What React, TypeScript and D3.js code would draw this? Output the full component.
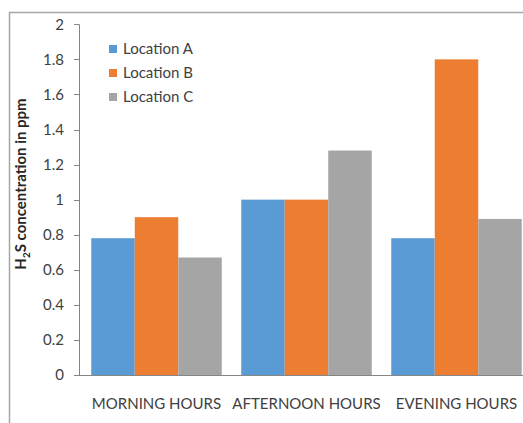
import React from "react";
import * as d3 from "d3";

const categories = ["MORNING HOURS", "AFTERNOON HOURS", "EVENING HOURS"];
const seriesNames = ["Location A", "Location B", "Location C"];
const locationA = [0.78, 1.0, 0.78];
const locationB = [0.9, 1.0, 1.8];
const locationC = [0.67, 1.28, 0.89];
const yTicks = [0, 0.2, 0.4, 0.6, 0.8, 1, 1.2, 1.4, 1.6, 1.8, 2];
const colors = ["#5B9BD5", "#ED7D31", "#A5A5A5"];

const W = 523;
const H = 423;
const FONT = "Lato, 'Open Sans', sans-serif";

export default function App() {
  const series = [locationA, locationB, locationC];
  const y = d3.scaleLinear().domain([0, 2]).range([375, 24.3]);
  const x = d3.scaleBand().domain(categories).range([81.5, 531.5]).paddingInner(0.13).paddingOuter(0.065);
  const xs = d3.scaleBand().domain(seriesNames).range([0, x.bandwidth()]);
  const axisX = 79;

  return (
    <svg width={W} height={H} style={{ position: "absolute", left: 0, top: 0, background: "#fff" }}>
      <rect x={0} y={0} width={W} height={H} fill="#fff" />
      {/* chart frame */}
      <path d={`M9.5,${H} V12.5 H${W}`} fill="none" stroke="#A6A6A6" strokeWidth={1.5} />

      {/* bars */}
      {series.map((vals, si) =>
        vals.map((v, ci) => (
          <rect
            key={`${si}-${ci}`}
            x={(x(categories[ci]) as number) + (xs(seriesNames[si]) as number)}
            y={y(v)}
            width={xs.bandwidth()}
            height={y(0) - y(v)}
            fill={colors[si]}
          />
        ))
      )}

      {/* y axis */}
      <line x1={axisX + 0.5} x2={axisX + 0.5} y1={y(2)} y2={y(0)} stroke="#868686" strokeWidth={1} />
      {yTicks.map((t) => (
        <g key={t}>
          <line x1={axisX - 5} x2={axisX} y1={Math.round(y(t)) + 0.5} y2={Math.round(y(t)) + 0.5} stroke="#868686" />
          <text x={64} y={y(t)} dy="0.35em" textAnchor="end" fontFamily={FONT} fontSize={15} fill="#404040">
            {t}
          </text>
        </g>
      ))}

      {/* x axis */}
      <line x1={axisX - 5} x2={W} y1={Math.round(y(0)) + 0.5} y2={Math.round(y(0)) + 0.5} stroke="#868686" />
      {categories.map((c) => (
        <text
          key={c}
          x={(x(c) as number) + x.bandwidth() / 2}
          y={409}
          textAnchor="middle"
          fontFamily={FONT}
          fontSize={15}
          fill="#404040"
        >
          {c}
        </text>
      ))}

      {/* y axis title */}
      <text
        transform="translate(26,184) rotate(-90)"
        textAnchor="middle"
        fontFamily={FONT}
        fontSize={15}
        fontWeight="bold"
        fill="#262626"
      >
        H<tspan fontSize={10} dy={4}>2</tspan>
        <tspan dy={-4}>S concentration in ppm</tspan>
      </text>

      {/* legend */}
      {seriesNames.map((s, i) => (
        <g key={s} transform={`translate(109,${49 + i * 24})`}>
          <rect x={0} y={-4} width={8} height={8} fill={colors[i]} />
          <text x={14} y={0} dy="0.35em" fontFamily={FONT} fontSize={15} fill="#404040">
            {s}
          </text>
        </g>
      ))}
    </svg>
  );
}
